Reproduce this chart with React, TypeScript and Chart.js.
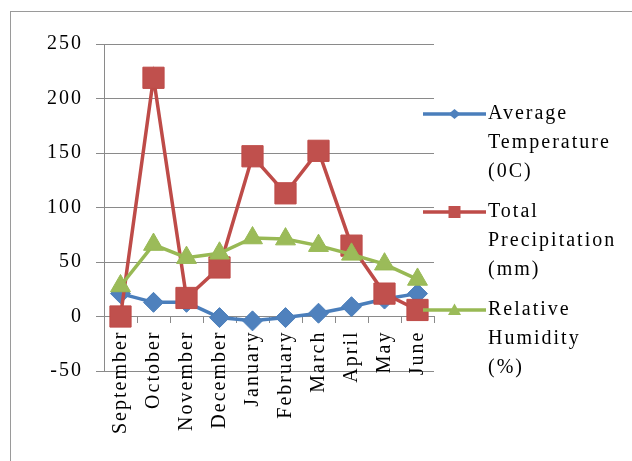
import React, { useEffect, useRef } from "react";
import { Chart, registerables } from "chart.js";

Chart.register(...registerables);

// Monthly climate figures, September to June
const months = ["September", "October", "November", "December", "January", "February", "March", "April", "May", "June"];
const avgTemperature = [21, 13, 13, -1, -4, -1, 3, 9, 16, 21];
const totalPrecipitation = [0, 219, 17, 45, 147, 113, 152, 65, 21, 6];
const relativeHumidity = [28, 66, 54, 58, 72, 71, 65, 57, 48, 34];

// Legend captions, one entry per series, wrapped over three lines
const tempLegend = ["Average", "Temperature", "(0C)"];
const precipLegend = ["Total", "Precipitation", "(mm)"];
const humidityLegend = ["Relative", "Humidity", "(%)"];

const yMin = -50;
const yMax = 250;
const yStep = 50;

const FONT_FAMILY = '"Liberation Serif", "Times New Roman", serif';
const TEXT_COLOR = "#000000";
const GRID_COLOR = "#8a8a8a";
const SPACING = "2px";

const BLUE = "#4A7EBB";
const RED = "#BE4B48";
const GREEN = "#98B954";

// Wide tracking for every piece of text on the canvas
const letterSpacingPlugin = {
  id: "letterSpacing",
  beforeLayout(chart: any) {
    chart.ctx.letterSpacing = SPACING;
  },
  beforeDraw(chart: any) {
    chart.ctx.letterSpacing = SPACING;
  },
};

function drawMarker(ctx: CanvasRenderingContext2D, shape: string, x: number, y: number) {
  ctx.beginPath();
  if (shape === "rect") {
    ctx.rect(x - 6, y - 6, 12, 12);
  } else if (shape === "rectRot") {
    ctx.moveTo(x, y - 5);
    ctx.lineTo(x + 6, y);
    ctx.lineTo(x, y + 5);
    ctx.lineTo(x - 6, y);
    ctx.closePath();
  } else {
    ctx.moveTo(x, y - 6.5);
    ctx.lineTo(x + 6.5, y + 5);
    ctx.lineTo(x - 6.5, y + 5);
    ctx.closePath();
  }
  ctx.fill();
}

// Legend at the right: a line sample with its marker, then a three-line caption
const sideLegendPlugin = {
  id: "sideLegend",
  afterDraw(chart: any) {
    const ctx: CanvasRenderingContext2D = chart.ctx;
    const area = chart.chartArea;
    const lineStart = area.right - 11;
    const lineEnd = lineStart + 63;
    const textX = lineEnd + 2;
    const entryTop = 114;
    const entryGap = 98;
    const lineGap = 29;
    ctx.save();
    ctx.letterSpacing = SPACING;
    ctx.font = `20px ${FONT_FAMILY}`;
    ctx.textBaseline = "middle";
    ctx.textAlign = "left";
    chart.data.datasets.forEach((ds: any, i: number) => {
      const y = entryTop + i * entryGap;
      ctx.strokeStyle = ds.borderColor;
      ctx.lineWidth = 3.5;
      ctx.beginPath();
      ctx.moveTo(lineStart, y);
      ctx.lineTo(lineEnd, y);
      ctx.stroke();
      ctx.fillStyle = ds.pointBackgroundColor;
      drawMarker(ctx, ds.pointStyle, (lineStart + lineEnd) / 2, y);
      ctx.fillStyle = TEXT_COLOR;
      (ds.legendLines as string[]).forEach((t, j) => {
        ctx.fillText(t, textX, y + j * lineGap);
      });
    });
    ctx.restore();
  },
};

export default function App() {
  const canvasRef = useRef<HTMLCanvasElement | null>(null);

  useEffect(() => {
    const canvas = canvasRef.current;
    if (!canvas) return;
    const font = { family: FONT_FAMILY, size: 20 };
    const chart = new Chart(canvas, {
      type: "line",
      data: {
        labels: months,
        datasets: [
          {
            label: tempLegend.join(" "),
            legendLines: tempLegend,
            data: avgTemperature,
            borderColor: BLUE,
            backgroundColor: BLUE,
            pointBackgroundColor: "#4F81BD",
            pointBorderColor: BLUE,
            pointStyle: "rectRot",
            pointRadius: 10,
            pointBorderWidth: 1,
            borderWidth: 3.5,
            tension: 0,
            order: 2,
          } as any,
          {
            label: precipLegend.join(" "),
            legendLines: precipLegend,
            data: totalPrecipitation,
            borderColor: RED,
            backgroundColor: RED,
            pointBackgroundColor: "#C0504D",
            pointBorderColor: RED,
            pointStyle: "rect",
            pointRadius: 15,
            pointBorderWidth: 1,
            borderWidth: 3.5,
            tension: 0,
            order: 1,
          } as any,
          {
            label: humidityLegend.join(" "),
            legendLines: humidityLegend,
            data: relativeHumidity,
            borderColor: GREEN,
            backgroundColor: GREEN,
            pointBackgroundColor: "#9BBB59",
            pointBorderColor: GREEN,
            pointStyle: "triangle",
            pointRadius: 11.5,
            pointBorderWidth: 1,
            borderWidth: 3.5,
            tension: 0,
            order: 0,
          } as any,
        ],
      },
      options: {
        responsive: false,
        animation: false,
        layout: { padding: { left: 0, top: 44, right: 198, bottom: 90 } },
        plugins: {
          legend: { display: false },
          tooltip: { enabled: false },
        },
        scales: {
          x: {
            type: "category",
            position: { y: 0 } as any,
            offset: true,
            grid: {
              drawOnChartArea: false,
              drawTicks: true,
              tickLength: 6,
              offset: true,
              color: GRID_COLOR,
              lineWidth: 1,
            },
            border: { display: true, color: GRID_COLOR, width: 1 },
            ticks: {
              autoSkip: false,
              minRotation: 90,
              maxRotation: 90,
              padding: 8,
              color: TEXT_COLOR,
              font,
            },
            afterFit: (scale: any) => {
              scale.height = 0;
            },
          },
          y: {
            type: "linear",
            position: "left",
            min: yMin,
            max: yMax,
            ticks: {
              stepSize: yStep,
              padding: 13,
              color: TEXT_COLOR,
              font,
            },
            grid: {
              color: GRID_COLOR,
              lineWidth: 1,
              tickLength: 8,
            },
            border: { display: true, color: GRID_COLOR, width: 1 },
            afterFit: (scale: any) => {
              scale.width = 104;
            },
          },
        },
      },
      plugins: [letterSpacingPlugin, sideLegendPlugin],
    });
    return () => chart.destroy();
  }, []);

  return (
    <div
      style={{
        position: "absolute",
        left: 0,
        top: 0,
        width: 632,
        height: 461,
        overflow: "hidden",
        background: "#ffffff",
      }}
    >
      <div
        style={{
          position: "absolute",
          left: 10,
          top: 11,
          width: 700,
          height: 520,
          border: "1px solid #9a9a9a",
        }}
      />
      <canvas
        ref={canvasRef}
        width={632}
        height={461}
        style={{ position: "absolute", left: 0, top: 0, width: 632, height: 461 }}
      />
    </div>
  );
}
